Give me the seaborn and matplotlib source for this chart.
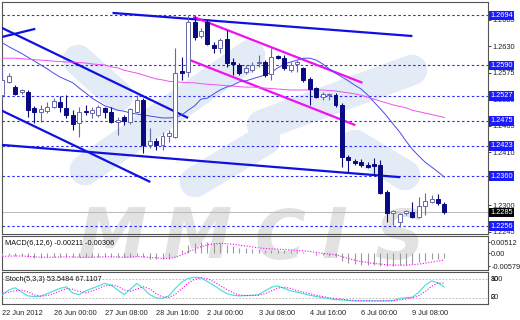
import numpy as np
import matplotlib
matplotlib.use("Agg")
import matplotlib.pyplot as plt
import matplotlib.transforms as mtransforms
import seaborn as sns

# ---------------- data ----------------
opens = [1.2529,1.2556,1.2545,1.2535,1.2535,1.2501,1.2493,1.2495,1.2503,1.2514,
         1.2501,1.2487,1.2470,1.2495,1.2491,1.2487,1.2501,1.2493,1.2472,1.2483,
         1.2472,1.2493,1.2518,1.2425,1.2433,1.2425,1.2443,1.2441,1.2578,1.2576,
         1.2680,1.2651,1.2680,1.2632,1.2626,1.2645,1.2597,1.2591,1.2576,1.2580,
         1.2595,1.2597,1.2572,1.2609,1.2605,1.2580,1.2593,1.2585,1.2562,1.2543,
         1.2525,1.2529,1.2529,1.2508,1.2400,1.2392,1.2389,1.2383,1.2385,1.2383,
         1.2327,1.2284,1.2265,1.2284,1.2286,1.2276,1.2298,1.2307,1.2313,1.2302]
closes = [1.2560,1.2568,1.2531,1.2539,1.2497,1.2493,1.2499,1.2503,1.2516,1.2503,
          1.2487,1.2468,1.2493,1.2493,1.2497,1.2504,1.2493,1.2472,1.2477,1.2475,
          1.2499,1.2518,1.2425,1.2433,1.2425,1.2443,1.2450,1.2574,1.2574,1.2680,
          1.2649,1.2661,1.2634,1.2626,1.2643,1.2595,1.2593,1.2574,1.2585,1.2591,
          1.2597,1.2570,1.2607,1.2605,1.2585,1.2591,1.2597,1.2560,1.2541,1.2525,
          1.2531,1.2530,1.2508,1.2400,1.2394,1.2387,1.2383,1.2379,1.2381,1.2325,
          1.2284,1.2288,1.2282,1.2288,1.2276,1.2298,1.2309,1.2313,1.2305,1.2285]
highs = [1.2589,1.2574,1.2549,1.2541,1.2539,1.2505,1.2508,1.2514,1.2522,1.2527,
         1.2529,1.2497,1.2504,1.2508,1.2504,1.2508,1.2504,1.2504,1.2483,1.2487,
         1.2501,1.2529,1.2522,1.2460,1.2439,1.2452,1.2456,1.2626,1.2607,1.2695,
         1.2693,1.2668,1.2684,1.2639,1.2647,1.2664,1.2605,1.2595,1.2591,1.2597,
         1.2612,1.2601,1.2626,1.2612,1.2612,1.2597,1.2601,1.2587,1.2566,1.2545,
         1.2535,1.2533,1.2533,1.2512,1.2404,1.2396,1.2396,1.2389,1.2398,1.2394,
         1.2331,1.2290,1.2284,1.2290,1.2307,1.2317,1.2325,1.2321,1.2323,1.2307]
lows = [1.2518,1.2554,1.2529,1.2531,1.2483,1.2470,1.2472,1.2491,1.2501,1.2493,
        1.2481,1.2456,1.2441,1.2487,1.2481,1.2483,1.2481,1.2470,1.2446,1.2466,
        1.2468,1.2491,1.2408,1.2419,1.2414,1.2414,1.2431,1.2439,1.2560,1.2566,
        1.2643,1.2647,1.2632,1.2616,1.2616,1.2587,1.2570,1.2570,1.2572,1.2576,
        1.2587,1.2566,1.2560,1.2603,1.2580,1.2576,1.2576,1.2556,1.2508,1.2522,
        1.2518,1.2518,1.2504,1.2379,1.2367,1.2383,1.2379,1.2377,1.2363,1.2323,
        1.2265,1.2259,1.2255,1.2280,1.2273,1.2273,1.2280,1.2304,1.2300,1.2282]
ma_fast = [1.2637,1.2629,1.2622,1.2615,1.2607,1.2599,1.2591,1.2583,1.2574,1.2566,
           1.2560,1.2554,1.2543,1.2533,1.2522,1.2514,1.2506,1.2502,1.2497,1.2495,
           1.2491,1.2489,1.2487,1.2485,1.2483,1.2481,1.2481,1.2482,1.2487,1.2497,
           1.2506,1.2520,1.2522,1.2531,1.2539,1.2545,1.2549,1.2556,1.2558,1.2562,
           1.2566,1.2570,1.2576,1.2585,1.2593,1.2597,1.2601,1.2605,1.2605,1.2601,
           1.2593,1.2583,1.2574,1.2566,1.2558,1.2549,1.2541,1.2529,1.2514,1.2500,
           1.2485,1.2468,1.2452,1.2433,1.2416,1.2402,1.2389,1.2379,1.2369,1.2358]
ma_slow = [1.2605,1.2605,1.2605,1.2604,1.2603,1.2602,1.2601,1.2600,1.2599,1.2598,
           1.2597,1.2597,1.2596,1.2595,1.2593,1.2592,1.2591,1.2587,1.2585,1.2580,
           1.2577,1.2574,1.2570,1.2566,1.2562,1.2560,1.2557,1.2556,1.2555,1.2554,
           1.2554,1.2552,1.2551,1.2550,1.2549,1.2548,1.2547,1.2546,1.2545,1.2545,
           1.2544,1.2543,1.2542,1.2541,1.2540,1.2539,1.2539,1.2539,1.2539,1.2539,
           1.2539,1.2538,1.2537,1.2535,1.2533,1.2531,1.2528,1.2524,1.2520,1.2516,
           1.2512,1.2508,1.2505,1.2502,1.2497,1.2494,1.2491,1.2488,1.2485,1.2482]
macd_main = [-0.0012,-0.0010,-0.0011,-0.0013,-0.0018,-0.0020,-0.0020,-0.0019,-0.0016,-0.0015,
             -0.0016,-0.0019,-0.0019,-0.0018,-0.0017,-0.0015,-0.0015,-0.0017,-0.0019,-0.0019,
             -0.0016,-0.0011,-0.0019,-0.0024,-0.0027,-0.0027,-0.0025,0.0001,0.0016,0.0038,
             0.0048,0.0051,0.0050,0.0047,0.0045,0.0038,0.0032,0.0026,0.0023,0.0021,
             0.0019,0.0014,0.0016,0.0017,0.0013,0.0011,0.0010,0.0006,0.0000,-0.0006,
             -0.0009,-0.0011,-0.0015,-0.0036,-0.0045,-0.0050,-0.0053,-0.0054,-0.0054,-0.0058,
             -0.0058,-0.0057,-0.0055,-0.0052,-0.0047,-0.0040,-0.0033,-0.0028,-0.0025,-0.0021]
macd_signal = [-0.0014,-0.0013,-0.0012,-0.0012,-0.0014,-0.0016,-0.0018,-0.0018,-0.0018,-0.0017,
               -0.0016,-0.0017,-0.0018,-0.0018,-0.0018,-0.0017,-0.0016,-0.0016,-0.0017,-0.0018,
               -0.0017,-0.0015,-0.0016,-0.0019,-0.0021,-0.0023,-0.0024,-0.0017,-0.0007,0.0006,
               0.0018,0.0030,0.0038,0.0043,0.0045,0.0044,0.0041,0.0037,0.0033,0.0029,
               0.0025,0.0022,0.0020,0.0019,0.0017,0.0015,0.0013,0.0011,0.0008,0.0004,
               0.0000,-0.0003,-0.0007,-0.0015,-0.0024,-0.0031,-0.0038,-0.0042,-0.0046,-0.0049,
               -0.0052,-0.0054,-0.0054,-0.0054,-0.0052,-0.0049,-0.0045,-0.0040,-0.0035,-0.0031]
stoch_k = [29,45,52,38,26,24,25,33,42,50,
           55,35,30,42,50,58,66,60,45,30,
           48,66,50,30,20,18,26,50,70,82,
           86,84,72,60,46,34,28,26,27,28,
           30,42,54,58,50,42,38,33,28,24,
           20,17,14,13,11,10,10,10,10,10,
           10,11,18,20,22,38,60,74,68,54]
stoch_d = [35,38,42,45,39,29,25,27,33,42,
           49,47,40,36,41,50,58,61,57,45,
           41,48,55,49,33,23,21,31,49,67,
           79,84,81,72,59,47,36,29,27,27,
           28,33,42,51,54,50,43,38,33,28,
           24,20,17,15,13,11,10,10,10,10,
           10,10,13,16,20,27,40,57,67,67]
levels = [1.2694, 1.2590, 1.2527, 1.2475, 1.2423, 1.2360, 1.2256]
bid_price = 1.2285
price_ticks = [1.2245, 1.2300, 1.2355, 1.2410, 1.2465, 1.2520, 1.2575, 1.2630, 1.2685]
time_tick_bars = [0, 8, 16, 24, 32, 40, 48, 56, 64]
time_labels = ["22 Jun 2012", "26 Jun 00:00", "27 Jun 08:00", "28 Jun 16:00",
               "2 Jul 00:00", "3 Jul 08:00", "4 Jul 16:00", "6 Jul 00:00", "9 Jul 08:00"]
# trend lines: (bar, price) anchor pairs
blue_trend_bars = [[17.2, 64.0], [-1, 29.0], [-1, 5.15], [-1, 23.1], [-1, 62.1]]
blue_trend_prices = [[1.2699, 1.2651], [1.2674, 1.2481], [1.2646, 1.2666],
                     [1.2502, 1.2348], [1.2426, 1.2358]]
pink_trend_bars = [[29.8, 56.2], [29.3, 55.1]]
pink_trend_prices = [[1.2691, 1.2554], [1.2601, 1.2466]]
macd_title = "MACD(6,12,6) -0.00211 -0.00306"
stoch_title = "Stoch(5,3,3) 53.5484 67.1107"

# ---------------- style ----------------
sns.set_style("white")
plt.rcParams['font.family'] = ['Liberation Sans', 'DejaVu Sans']
FS = 5.3
NAVY = "#0a0a80"
UPEDGE = "#6868a8"
LEVEL = "#2a2aff"

W, H = 520, 320
fig = plt.figure(figsize=(W / 100, H / 100), dpi=100)
fig.patch.set_facecolor("white")

def px_axes(x0, y0, x1, y1):
    return fig.add_axes([x0 / W, 1 - y1 / H, (x1 - x0) / W, (y1 - y0) / H])

ax = px_axes(2, 2, 488, 234)
axm = px_axes(2, 236, 488, 270)
axs = px_axes(2, 272, 488, 304)
XLIM = (-0.05, 75.8)
for a in (ax, axm, axs):
    a.patch.set_alpha(0)
    for s in a.spines.values():
        s.set_color("#555555")
        s.set_linewidth(0.8)

n = len(closes)
x = np.arange(n)
o = np.array(opens); c = np.array(closes)
hi = np.array(highs); lo = np.array(lows)
up = c >= o

# watermark (behind everything)
wm_bands = [((85, 170), (250, 55)), ((262, 125), (412, 70)), ((78, 60), (118, 96)),
            ((195, 182), (265, 140)), ((355, 145), (405, 175))]
for (xa, ya), (xb, yb) in wm_bands:
    fig.add_artist(plt.Line2D([xa / W, xb / W], [1 - ya / H, 1 - yb / H],
                              transform=fig.transFigure, color="#e3ebf6",
                              lw=22, solid_capstyle="round", zorder=-2))
for ch, cx in zip("MMCIS", [112, 197, 280, 334, 400]):
    fig.text(cx / W, 1 - 239 / H, ch, fontsize=50, fontweight="bold", style="italic",
             color="#e2e2e2", ha="center", va="center", zorder=-1,
             family="DejaVu Sans")

# ---------------- main panel ----------------
ax.set_ylim(1.2240, 1.27217)

for lv in levels:
    ax.axhline(lv, color=LEVEL, lw=0.8, ls=(0, (2.2, 2.2)), zorder=2)
ax.axhline(bid_price, color="#bdbdbd", lw=0.8, zorder=2)

for bx, by in zip(blue_trend_bars, blue_trend_prices):
    ax.plot(bx, by, color="#1010e0", lw=1.6, zorder=3, solid_capstyle="butt")
for bx, by in zip(pink_trend_bars, pink_trend_prices):
    ax.plot(bx, by, color="#f010f0", lw=1.6, zorder=3, solid_capstyle="butt")

sns.lineplot(x=x, y=ma_fast, ax=ax, color="#4a4af0", lw=0.7, zorder=3)
sns.lineplot(x=x, y=ma_slow, ax=ax, color="#f050f0", lw=0.7, zorder=3)

body_b = np.minimum(o, c)
body_h = np.maximum(np.abs(c - o), 0.00006)
ax.vlines(x[up], lo[up], hi[up], color=UPEDGE, lw=0.8, zorder=4)
ax.vlines(x[~up], lo[~up], hi[~up], color=NAVY, lw=0.8, zorder=4)
ax.bar(x[up], body_h[up], bottom=body_b[up], width=0.62, color="white",
       edgecolor=UPEDGE, linewidth=0.7, zorder=5)
ax.bar(x[~up], body_h[~up], bottom=body_b[~up], width=0.62, color=NAVY,
       edgecolor=NAVY, linewidth=0.7, zorder=5)

ax.yaxis.tick_right()
ax.set_yticks(price_ticks)
ax.set_yticklabels([f"{t:.4f}" for t in price_ticks], fontsize=FS)
ax.tick_params(axis="y", length=2, pad=1.5, width=0.6, colors="#222222")
ax.tick_params(axis="x", length=0, labelbottom=False)
ax.set_xlabel(""); ax.set_ylabel("")

trans = mtransforms.blended_transform_factory(ax.transAxes, ax.transData)
for lv in levels:
    ax.text(1.004, lv, f"{lv:.4f}", transform=trans, fontsize=FS, color="white",
            va="center", ha="left", zorder=10, clip_on=False,
            bbox=dict(boxstyle="square,pad=0.18", fc="#1a1aff", ec="none"))
ax.text(1.004, bid_price, f"{bid_price:.4f}", transform=trans, fontsize=FS, color="white",
        va="center", ha="left", zorder=10, clip_on=False,
        bbox=dict(boxstyle="square,pad=0.18", fc="#000000", ec="none"))

# ---------------- MACD panel ----------------
axm.set_ylim(-0.0076, 0.00787)
axm.vlines(x, 0, macd_main, color="#9a9a9a", lw=0.8, zorder=3)
sns.lineplot(x=x, y=macd_signal, ax=axm, color="#ff00ff", lw=0.8,
             linestyle=(0, (1, 1.5)), zorder=4)
axm.yaxis.tick_right()
axm.set_yticks([-0.00579, 0.0, 0.00512])
axm.set_yticklabels(["-0.00579", "0.00", "0.00512"], fontsize=FS)
axm.tick_params(axis="y", length=1.5, pad=0.8, width=0.6, colors="#222222")
axm.tick_params(axis="x", length=0, labelbottom=False)
axm.set_xlabel(""); axm.set_ylabel("")
axm.text(0.006, 0.77, macd_title, transform=axm.transAxes, fontsize=FS,
         va="center", ha="left", color="#111111")

# ---------------- Stochastic panel ----------------
axs.set_ylim(0, 102.6)
axs.axhline(80, color="#b0b0b0", lw=0.6, ls=(0, (2, 2)))
axs.axhline(20, color="#b0b0b0", lw=0.6, ls=(0, (2, 2)))
sns.lineplot(x=x, y=stoch_k, ax=axs, color="#40e0d0", lw=0.8, zorder=4)
sns.lineplot(x=x, y=stoch_d, ax=axs, color="#ff00ff", lw=0.8,
             linestyle=(0, (1, 1.5)), zorder=4)
axs.set_yticks([])
for lab, val in (("100", 80), ("80", 80), ("20", 20), ("0", 20)):
    axs.text(1.006, val, lab, transform=mtransforms.blended_transform_factory(
        axs.transAxes, axs.transData), fontsize=FS, va="center", ha="left",
        clip_on=False, color="#222222")
axs.set_xticks(time_tick_bars)
axs.set_xticklabels(time_labels, fontsize=FS, ha="left")
axs.tick_params(axis="x", length=2.5, pad=2, width=0.6, colors="#222222")
axs.set_xlabel(""); axs.set_ylabel("")
axs.text(0.006, 0.78, stoch_title, transform=axs.transAxes, fontsize=FS,
         va="center", ha="left", color="#111111")

for a in (ax, axm, axs):
    a.set_xlim(*XLIM)
    if a.get_legend() is not None:
        a.get_legend().remove()

fig.savefig("out.png", dpi=100)
